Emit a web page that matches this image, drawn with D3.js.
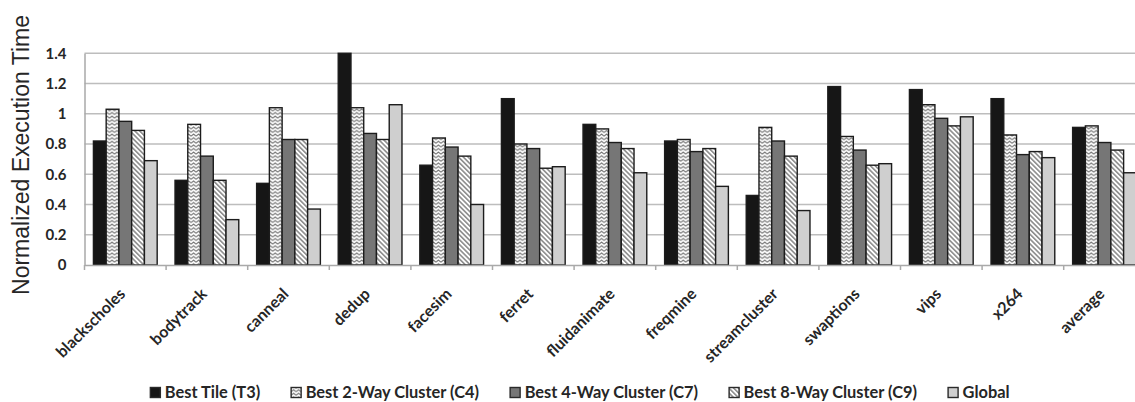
<!DOCTYPE html>
<html>
<head>
<meta charset="utf-8">
<script src="https://cdn.jsdelivr.net/npm/d3@7"></script>
<style>
  html, body { margin: 0; padding: 0; background: #fff; }
  svg { display: block; }
</style>
</head>
<body>
<svg id="chart" width="1135" height="402"></svg>
<script>
// Benchmarks on the x axis
const categories = ["blackscholes", "bodytrack", "canneal", "dedup", "facesim", "ferret",
  "fluidanimate", "freqmine", "streamcluster", "swaptions", "vips", "x264", "average"];

// Series names (legend order)
const seriesNames = ["Best Tile (T3)", "Best 2-Way Cluster (C4)", "Best 4-Way Cluster (C7)",
  "Best 8-Way Cluster (C9)", "Global"];

// Normalized execution time per series, one value per benchmark
const bestTile  = [0.82, 0.56, 0.54, 1.40, 0.66, 1.10, 0.93, 0.82, 0.46, 1.18, 1.16, 1.10, 0.91];
const best2Way  = [1.03, 0.93, 1.04, 1.04, 0.84, 0.80, 0.90, 0.83, 0.91, 0.85, 1.06, 0.86, 0.92];
const best4Way  = [0.95, 0.72, 0.83, 0.87, 0.78, 0.77, 0.81, 0.75, 0.82, 0.76, 0.97, 0.73, 0.81];
const best8Way  = [0.89, 0.56, 0.83, 0.83, 0.72, 0.64, 0.77, 0.77, 0.72, 0.66, 0.92, 0.75, 0.76];
const globalRun = [0.69, 0.30, 0.37, 1.06, 0.40, 0.65, 0.61, 0.52, 0.36, 0.67, 0.98, 0.71, 0.61];

// Y axis ticks
const yTicks = [0, 0.2, 0.4, 0.6, 0.8, 1, 1.2, 1.4];
const yMax = 1.4;

const seriesValues = [bestTile, best2Way, best4Way, best8Way, globalRun];
const seriesFill = ["#161616", "url(#zigzag)", "#767676", "url(#diag)", "#cfcfcf"];

const svg = d3.select("#chart");
const labelFont = "Lato, 'Open Sans', sans-serif";

// ---- patterns ----
const defs = svg.append("defs");
const zig = defs.append("pattern").attr("id", "zigzag")
  .attr("patternUnits", "userSpaceOnUse").attr("width", 5).attr("height", 3.6);
zig.append("rect").attr("width", 5).attr("height", 3.6).attr("fill", "#fff");
zig.append("path").attr("d", "M0,3.0 L2.5,0.9 L5,3.0")
  .attr("fill", "none").attr("stroke", "#6e6e6e").attr("stroke-width", 1);

const diag = defs.append("pattern").attr("id", "diag")
  .attr("patternUnits", "userSpaceOnUse").attr("width", 3.4).attr("height", 6)
  .attr("patternTransform", "rotate(-45)");
diag.append("rect").attr("width", 3.4).attr("height", 6).attr("fill", "#fff");
diag.append("rect").attr("width", 1.6).attr("height", 6).attr("fill", "#8c8c8c");

// ---- scales ----
const plotLeft = 84.5, plotRight = 1145.3, plotTop = 53.3, plotBottom = 265;
const x0 = d3.scaleBand().domain(categories).range([plotLeft, plotRight]).paddingInner(0).paddingOuter(0);
const x1 = d3.scaleBand().domain(d3.range(seriesNames.length)).range([0, x0.bandwidth()])
  .paddingInner(0).paddingOuter(0.7);
const y = d3.scaleLinear().domain([0, yMax]).range([plotBottom, plotTop]);

// ---- gridlines ----
svg.append("g").selectAll("line").data(yTicks.filter(d => d > 0)).join("line")
  .attr("x1", plotLeft).attr("x2", 1135)
  .attr("y1", d => y(d)).attr("y2", d => y(d))
  .attr("stroke", "#bdbdbd").attr("stroke-width", 1.5);

// ---- y axis ----
const yAxis = d3.axisLeft(y).tickValues(yTicks).tickSize(0).tickPadding(18)
  .tickFormat(d3.format("~g"));
const gy = svg.append("g").attr("transform", `translate(${plotLeft},0)`).call(yAxis);
gy.select(".domain").attr("stroke", "#a9a9a9").attr("stroke-width", 1.5);
gy.selectAll("text").attr("font-family", labelFont).attr("font-weight", 700)
  .attr("font-size", 15).attr("fill", "#262626");

// ---- bars ----
const groups = svg.append("g").selectAll("g").data(categories).join("g")
  .attr("transform", d => `translate(${x0(d)},0)`);
groups.selectAll("rect")
  .data((c, ci) => seriesValues.map((vals, si) => ({ si, v: vals[ci] })))
  .join("rect")
  .attr("x", d => x1(d.si))
  .attr("width", x1.bandwidth())
  .attr("y", d => y(d.v))
  .attr("height", d => y(0) - y(d.v))
  .attr("fill", d => seriesFill[d.si])
  .attr("stroke", "#1c1c1c").attr("stroke-width", 1.4);

// ---- x axis ----
const xAxis = d3.axisBottom(x0).tickSize(0).tickFormat("");
const gx = svg.append("g").attr("transform", `translate(0,${plotBottom})`).call(xAxis);
gx.select(".domain").attr("stroke", "#a9a9a9").attr("stroke-width", 1.5);
// tick marks at category boundaries
gx.append("g").selectAll("line").data(categories).join("line")
  .attr("x1", d => x0(d)).attr("x2", d => x0(d))
  .attr("y1", 0).attr("y2", 5)
  .attr("stroke", "#a9a9a9").attr("stroke-width", 1.5);

// rotated category labels
svg.append("g").selectAll("text").data(categories).join("text")
  .attr("transform", d => `translate(${x0(d) + x0.bandwidth() / 2 + 1},${plotBottom + 30}) rotate(-45)`)
  .attr("text-anchor", "end")
  .attr("font-family", labelFont).attr("font-weight", 700).attr("font-size", 16)
  .attr("fill", "#262626")
  .text(d => d);

// ---- y axis title ----
svg.append("text")
  .attr("transform", `translate(29,155) rotate(-90)`)
  .attr("text-anchor", "middle")
  .attr("font-family", "'Liberation Sans', Arial, sans-serif")
  .attr("font-size", 23).attr("fill", "#262626")
  .text("Normalized Execution Time");

// ---- legend ----
const legend = svg.append("g");
const items = legend.selectAll("g").data(seriesNames).join("g");
items.append("rect")
  .attr("width", 10).attr("height", 10).attr("y", 387.5)
  .attr("fill", (d, i) => seriesFill[i])
  .attr("stroke", "#2a2a2a").attr("stroke-width", 1.4);
items.append("text")
  .attr("x", 14.5).attr("y", 397.8)
  .attr("font-family", labelFont).attr("font-weight", 700).attr("font-size", 16.4)
  .attr("fill", "#262626")
  .text(d => d);
// lay legend items out in a row, centred
const gap = 31;
let cursor = 0;
const widths = [];
items.each(function () { widths.push(14.5 + d3.select(this).select("text").node().getComputedTextLength()); });
const totalW = d3.sum(widths) + gap * (widths.length - 1);
const startX = 580 - totalW / 2;
items.attr("transform", (d, i) => {
  const tx = startX + cursor;
  cursor += widths[i] + gap;
  return `translate(${tx},0)`;
});
</script>
</body>
</html>
